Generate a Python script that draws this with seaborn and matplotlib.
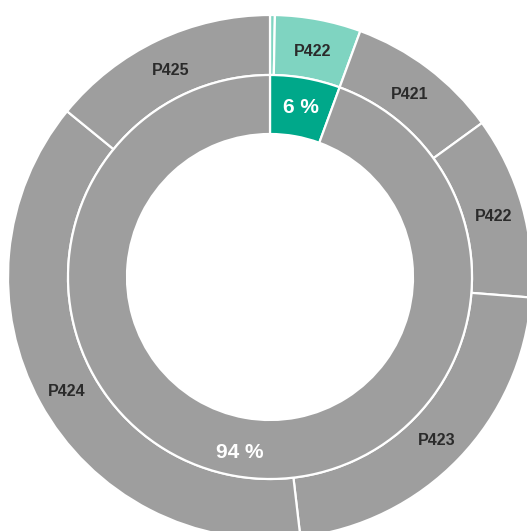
import numpy as np
import matplotlib.pyplot as plt
import seaborn as sns

# inner ring: share of the highlighted group
inner_labels = ["6 %", "94 %"]
inner_vals = [5.6, 94.4]
inner_cols = ["#00a88a", "#9e9e9e"]

# outer ring: breakdown by product code, clockwise from 12 o'clock
outer_labels = ["", "P422", "P421", "P422", "P423", "P424", "P425"]
outer_vals = [0.3, 5.3, 9.4, 11.25, 21.9, 37.75, 14.1]
outer_cols = ["#7fd4c1", "#7fd4c1", "#9e9e9e", "#9e9e9e", "#9e9e9e", "#9e9e9e", "#9e9e9e"]

sns.set_theme(style="white")
plt.rcParams['font.family'] = ['Liberation Sans', 'DejaVu Sans']

W, H = 527, 531
fig = plt.figure(figsize=(W/100, H/100), dpi=100)
cx, cy, R = 270, 531 - 277, 262
ax = fig.add_axes([(cx - R)/W, (cy - R)/H, 2*R/W, 2*R/H])
ax.axis("off")

r_out = 1.0
r_mid = 202/262
r_in = 143/262

ax.pie(outer_vals, radius=r_out, colors=outer_cols, startangle=90, counterclock=False,
       wedgeprops=dict(width=r_out - r_mid, edgecolor="white", linewidth=1.6))
ax.pie(inner_vals, radius=r_mid, colors=inner_cols, startangle=90, counterclock=False,
       wedgeprops=dict(width=r_mid - r_in, edgecolor="white", linewidth=1.6))
ax.set_xlim(-1, 1)
ax.set_ylim(-1, 1)
ax.set_aspect("auto")


def put_labels(vals, labels, r, **kw):
    tot = float(sum(vals))
    start = 0.0
    for v, lab in zip(vals, labels):
        mid = (start + v/2)/tot*360
        start += v
        if not lab:
            continue
        a = np.deg2rad(90 - mid)
        ax.text(r*np.cos(a), r*np.sin(a) - 0.011, lab, ha="center", va="center", **kw)


put_labels(outer_vals, outer_labels, (r_out + r_mid)/2, fontsize=11.5,
           fontweight="bold", color="#2b2b2b")
put_labels(inner_vals, inner_labels, (r_mid + r_in)/2 + 0.01, fontsize=15,
           fontweight="bold", color="white")

fig.savefig("out.png", dpi=100)
